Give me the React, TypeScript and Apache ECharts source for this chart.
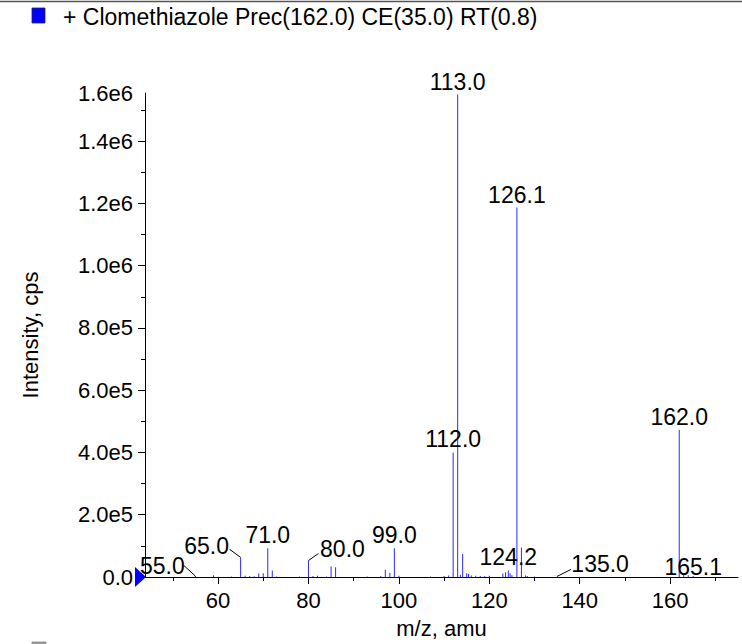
import React, { useEffect, useRef } from "react";
import * as echarts from "echarts";

// ---- data ----
const mzValues = [
  55.0, 59.0, 63.0, 65.0, 66.0, 67.0, 68.0, 69.0, 70.0, 71.0, 72.0, 73.0,
  78.0, 80.0, 81.0, 82.0, 84.0, 85.0, 86.0, 93.0, 96.0, 97.0, 98.0, 99.0,
  100.0, 107.0, 110.0, 111.0, 112.0, 113.0, 113.6, 114.1, 115.0, 115.4,
  116.0, 117.0, 118.0, 119.0, 120.0, 123.0, 123.6, 124.2, 124.6, 125.0,
  126.1, 127.1, 128.0, 128.4, 130.0, 135.0, 162.0, 163.0, 164.0, 165.1,
];
const intensities = [
  3000, 6000, 2000, 63000, 4000, 3000, 2500, 11000, 12000, 92000, 21000, 2000,
  1500, 53000, 3000, 4000, 2000, 34000, 31000, 2000, 3000, 23000, 13000, 92000,
  4000, 1500, 3000, 5000, 400000, 1550000, 7000, 74000, 12000, 10000,
  5000, 4000, 3000, 3000, 4000, 11000, 15000, 21000, 12000, 6000,
  1187000, 95000, 5000, 3000, 2000, 2000, 473000, 8000, 6000, 3000,
];
const labeledPeaks = [55.0, 65.0, 71.0, 80.0, 99.0, 112.0, 113.0, 124.2, 126.1, 135.0, 162.0, 165.1];
const xLabelTicks = [60, 80, 100, 120, 140, 160];
const xMinorTicks = [50, 70, 90, 110, 130, 150, 170];
const yLabelTicks = [0, 200000, 400000, 600000, 800000, 1000000, 1200000, 1400000];
const yMinorTicks = [100000, 300000, 500000, 700000, 900000, 1100000, 1300000, 1500000];
const X_MIN = 43.85;
const X_MAX = 175.0;
const Y_MAX = 1555000;
const titleText = "+ Clomethiazole Prec(162.0) CE(35.0) RT(0.8)";

// label placement relative to the peak top, in pixels (layout, not data)
const labelShift: Record<string, [number, number]> = {
  "55.0": [-33, -10],
  "65.0": [-34, -11],
  "80.0": [34, -12],
  "135.0": [43, -12],
  "165.1": [0, -9],
};
const leaderEnd: Record<string, [number, number]> = {
  "55.0": [-12, -11],
  "65.0": [-11, -8],
  "80.0": [10, -7],
  "135.0": [14, -7],
};

const FONT = "Liberation Sans, Arial, Helvetica, sans-serif";

function fmtY(v: number): string {
  if (v === 0) return "0.0";
  const e = Math.floor(Math.log10(v));
  return (v / Math.pow(10, e)).toFixed(1) + "e" + e;
}

export default function App() {
  const ref = useRef<HTMLDivElement>(null);
  useEffect(() => {
    document.body.style.margin = "0";
    const chart = echarts.init(ref.current!, null, { renderer: "svg" });
    const barData = mzValues.map((mz, i) => [mz, intensities[i]]);
    const labelData = labeledPeaks.map((mz) => [mz, intensities[mzValues.indexOf(mz)]]);
    const option: any = {
      animation: false,
      title: {
        text: titleText,
        left: 58,
        top: 0,
        textStyle: { fontFamily: FONT, fontSize: 23, fontWeight: "normal", color: "#000" },
      },
      grid: { left: 145, right: 4, top: 93, bottom: 63, containLabel: false },
      xAxis: [
        {
          type: "value",
          min: X_MIN,
          max: X_MAX,
          position: "bottom",
          name: "m/z, amu",
          nameLocation: "middle",
          nameGap: 40,
          nameTextStyle: { fontFamily: FONT, fontSize: 22, color: "#000" },
          axisLine: { show: true, onZero: false, lineStyle: { color: "#000", width: 1 } },
          axisTick: { show: true, length: 7, customValues: xLabelTicks, lineStyle: { color: "#000" } },
          axisLabel: {
            customValues: xLabelTicks,
            margin: 12,
            fontFamily: FONT,
            fontSize: 22,
            color: "#000",
          },
          splitLine: { show: false },
        },
        {
          type: "value",
          min: X_MIN,
          max: X_MAX,
          position: "bottom",
          axisLine: { show: false },
          axisTick: { show: true, length: 4, customValues: xMinorTicks, lineStyle: { color: "#000" } },
          axisLabel: { show: false },
          splitLine: { show: false },
        },
      ],
      yAxis: [
        {
          type: "value",
          min: 0,
          max: Y_MAX,
          position: "left",
          name: "Intensity, cps",
          nameLocation: "middle",
          nameGap: 104,
          nameTextStyle: { fontFamily: FONT, fontSize: 22, color: "#000" },
          axisLine: { show: true, onZero: false, lineStyle: { color: "#000", width: 1 } },
          axisTick: { show: true, length: 7, customValues: yLabelTicks, lineStyle: { color: "#000" } },
          axisLabel: {
            customValues: [...yLabelTicks, Y_MAX],
            formatter: (v: number) => fmtY(v),
            margin: 12,
            fontFamily: FONT,
            fontSize: 22,
            color: "#000",
          },
          splitLine: { show: false },
        },
        {
          type: "value",
          min: 0,
          max: Y_MAX,
          position: "left",
          axisLine: { show: false },
          axisTick: { show: true, length: 4, customValues: yMinorTicks, lineStyle: { color: "#000" } },
          axisLabel: { show: false },
          splitLine: { show: false },
        },
      ],
      series: [
        {
          type: "bar",
          xAxisIndex: 0,
          yAxisIndex: 0,
          barWidth: 1,
          itemStyle: { color: "#2a2aff" },
          data: barData,
        },
        {
          type: "custom",
          xAxisIndex: 0,
          yAxisIndex: 0,
          silent: true,
          z: 5,
          data: labelData,
          renderItem: (params: any, api: any) => {
            const mz = api.value(0);
            const pt = api.coord([mz, api.value(1)]);
            const key = Number(mz).toFixed(1);
            const off = labelShift[key] || [0, -13];
            const children: any[] = [
              {
                type: "text",
                x: pt[0] + off[0],
                y: pt[1] + off[1],
                style: {
                  text: key,
                  fontFamily: FONT,
                  fontSize: 23,
                  fill: "#000",
                  align: "center",
                  verticalAlign: "middle",
                },
              },
            ];
            const le = leaderEnd[key];
            if (le) {
              children.push({
                type: "line",
                shape: { x1: pt[0], y1: pt[1], x2: pt[0] + le[0], y2: pt[1] + le[1] },
                style: { stroke: "#000", lineWidth: 1 },
              });
            }
            return { type: "group", children };
          },
        },
      ],
      graphic: [
        { type: "line", shape: { x1: 0, y1: 1.5, x2: 742, y2: 1.5 }, style: { stroke: "#555", lineWidth: 1.5 } },
        { type: "rect", shape: { x: 32, y: 8, width: 13, height: 15 }, style: { fill: "#0000ff", stroke: "#202060", lineWidth: 0.8 } },
        { type: "rect", shape: { x: 32, y: 642, width: 14, height: 15 }, style: { fill: "#999", stroke: "#888", lineWidth: 0.8 } },
        { type: "polygon", shape: { points: [[135, 567], [135, 587], [146, 577]] }, style: { fill: "#0000ff" }, z: 100 },
      ],
    };
    chart.setOption(option);
    return () => chart.dispose();
  }, []);
  return <div ref={ref} style={{ width: 742, height: 644 }} />;
}
